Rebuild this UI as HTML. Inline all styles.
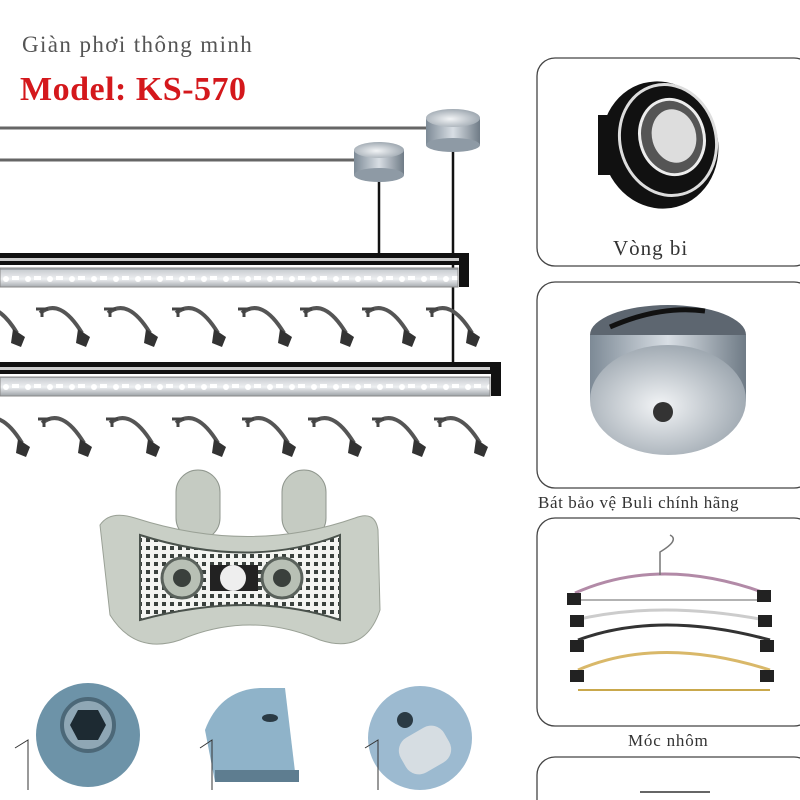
<!DOCTYPE html>
<html><head><meta charset="utf-8"><style>
html,body{margin:0;padding:0;background:#fff;}
body{width:800px;height:800px;overflow:hidden;position:relative;font-family:"Liberation Serif",serif;}
.t{position:absolute;white-space:nowrap;}
</style></head><body>
<svg width="800" height="800" style="position:absolute;left:0;top:0">
<defs>
<linearGradient id="cyl" x1="0" x2="1"><stop offset="0" stop-color="#7d8a96"/><stop offset=".5" stop-color="#d8dee4"/><stop offset="1" stop-color="#6f7b86"/></linearGradient>
<radialGradient id="cap" cx=".45" cy=".55" r=".6"><stop offset="0" stop-color="#f2f4f6"/><stop offset="1" stop-color="#9aa4ad"/></radialGradient>
<linearGradient id="strip" x1="0" y1="0" x2="0" y2="1"><stop offset="0" stop-color="#c9cdd1"/><stop offset=".5" stop-color="#eef0f2"/><stop offset="1" stop-color="#9ea3a8"/></linearGradient>
<pattern id="holes" width="22" height="18" patternUnits="userSpaceOnUse"><rect width="22" height="18" fill="url(#strip)"/><circle cx="6" cy="9" r="3" fill="#fff"/><rect x="12" y="6" width="7" height="4" fill="#fff"/></pattern>
<pattern id="dots" width="8" height="8" patternUnits="userSpaceOnUse"><rect width="8" height="8" fill="#f4f5f2"/><rect x="2" y="2" width="4" height="4" fill="#3b423e"/></pattern>
<g id="hook"><path d="M0 8 Q20 -8 42 28" fill="none" stroke="#555" stroke-width="4"/><path d="M38 24 L50 32 L46 42 L36 38 Z" fill="#333"/><path d="M-4 4 L8 4 M2 4 L2 12" stroke="#444" stroke-width="3"/></g>
</defs>
<line x1="0" y1="128" x2="430" y2="128" stroke="#666" stroke-width="3"/>
<line x1="0" y1="160" x2="358" y2="160" stroke="#666" stroke-width="3"/>
<line x1="379" y1="175" x2="379" y2="255" stroke="#111" stroke-width="2.5"/>
<line x1="453" y1="145" x2="453" y2="365" stroke="#111" stroke-width="2.5"/>
<rect x="354" y="150" width="50" height="25" fill="url(#cyl)"/><ellipse cx="379" cy="150" rx="25" ry="8" fill="url(#cap)"/><ellipse cx="379" cy="175" rx="25" ry="7" fill="#8e9aa5"/>
<rect x="426" y="118" width="54" height="27" fill="url(#cyl)"/><ellipse cx="453" cy="118" rx="27" ry="9" fill="url(#cap)"/><ellipse cx="453" cy="145" rx="27" ry="7" fill="#8e9aa5"/>
<rect x="0" y="253" width="462" height="12" fill="#111"/><rect x="0" y="258" width="460" height="3" fill="#ccc"/>
<rect x="0" y="268" width="458" height="19" fill="url(#holes)" stroke="#888"/>
<rect x="459" y="253" width="10" height="34" fill="#111"/>
<rect x="0" y="362" width="494" height="12" fill="#111"/><rect x="0" y="367" width="490" height="3" fill="#ccc"/>
<rect x="0" y="377" width="490" height="19" fill="url(#holes)" stroke="#888"/>
<rect x="491" y="362" width="10" height="34" fill="#111"/>
<g>
<use href="#hook" x="-25" y="305"/><use href="#hook" x="40" y="305"/><use href="#hook" x="108" y="305"/><use href="#hook" x="176" y="305"/><use href="#hook" x="242" y="305"/><use href="#hook" x="304" y="305"/><use href="#hook" x="366" y="305"/><use href="#hook" x="430" y="305"/>
<use href="#hook" x="-20" y="415"/><use href="#hook" x="42" y="415"/><use href="#hook" x="110" y="415"/><use href="#hook" x="176" y="415"/><use href="#hook" x="246" y="415"/><use href="#hook" x="312" y="415"/><use href="#hook" x="376" y="415"/><use href="#hook" x="438" y="415"/>
</g>
<rect x="176" y="470" width="44" height="70" rx="22" fill="#c5cbc2" stroke="#8f968d"/>
<rect x="282" y="470" width="44" height="70" rx="22" fill="#c5cbc2" stroke="#8f968d"/>
<path d="M100 525 Q110 510 135 518 Q250 555 355 518 Q375 510 378 530 L380 610 Q365 655 320 640 Q250 610 180 640 Q135 655 110 615 Z" fill="#c9cfc6" stroke="#9aa196"/>
<path d="M140 535 Q250 570 340 535 L340 620 Q250 590 140 620 Z" fill="url(#dots)" stroke="#4a524c" stroke-width="2"/>
<circle cx="182" cy="578" r="20" fill="#b8c0b5" stroke="#5a625c" stroke-width="3"/><circle cx="182" cy="578" r="9" fill="#3a403c"/>
<circle cx="282" cy="578" r="20" fill="#b8c0b5" stroke="#5a625c" stroke-width="3"/><circle cx="282" cy="578" r="9" fill="#3a403c"/>
<rect x="210" y="565" width="48" height="26" fill="#222"/><circle cx="233" cy="578" r="13" fill="#eee"/>
<circle cx="88" cy="735" r="52" fill="#6d93a8"/><circle cx="88" cy="725" r="26" fill="#8fa7b5" stroke="#4c6878" stroke-width="4"/><polygon points="78,710 98,710 106,725 98,740 78,740 70,725" fill="#1d2a32"/>
<path d="M205 730 Q220 690 260 688 L285 688 L296 780 L215 782 Z" fill="#8fb3c9"/><rect x="215" y="770" width="84" height="12" fill="#5e7d90"/><ellipse cx="270" cy="718" rx="8" ry="4" fill="#2a3a44"/>
<circle cx="420" cy="738" r="52" fill="#9cbad0"/><rect x="400" y="730" width="50" height="40" rx="15" fill="#d6dde2" transform="rotate(-30 425 750)"/><circle cx="405" cy="720" r="8" fill="#2a3a44"/>
<path d="M15 748 L28 740 L28 790 M200 748 L212 740 L212 790 M365 748 L378 740 L378 790" fill="none" stroke="#333" stroke-width="1"/>
<g fill="#fff" stroke="#444" stroke-width="1.3">
<rect x="537" y="58" width="275" height="208" rx="18"/>
<rect x="537" y="282" width="275" height="206" rx="18"/>
<rect x="537" y="518" width="275" height="208" rx="18"/>
<rect x="537" y="757" width="275" height="80" rx="18"/>
</g>
<ellipse cx="660" cy="145" rx="58" ry="64" fill="#111" transform="rotate(-15 660 145)"/>
<rect x="598" y="115" width="40" height="60" fill="#111"/>
<ellipse cx="668" cy="140" rx="48" ry="56" fill="none" stroke="#ddd" stroke-width="3" transform="rotate(-15 668 140)"/>
<ellipse cx="672" cy="137" rx="32" ry="38" fill="#555" stroke="#eee" stroke-width="3" transform="rotate(-15 672 137)"/>
<ellipse cx="674" cy="136" rx="22" ry="27" fill="#ddd" transform="rotate(-15 674 136)"/>
<ellipse cx="668" cy="335" rx="78" ry="30" fill="#5d6670"/>
<rect x="590" y="335" width="156" height="65" fill="url(#cyl)"/>
<ellipse cx="668" cy="400" rx="78" ry="55" fill="url(#cap)"/>
<path d="M610 327 Q660 305 705 311" stroke="#111" stroke-width="5" fill="none"/>
<circle cx="663" cy="412" r="10" fill="#333"/>
<g fill="none" stroke-width="3">
<path d="M575 593 Q660 555 765 593" stroke="#b28aa7"/><path d="M575 600 L765 600" stroke="#999" stroke-width="1.5"/>
<path d="M575 620 Q660 600 765 620" stroke="#ccc"/><path d="M578 640 Q660 610 770 640" stroke="#333"/>
<path d="M578 670 Q660 635 770 670" stroke="#d9b869"/><path d="M578 690 L770 690" stroke="#c9a84c" stroke-width="2"/>
<path d="M660 575 L660 552 Q680 540 670 535" stroke="#777" stroke-width="1.5"/>
</g>
<g fill="#222"><rect x="567" y="593" width="14" height="12"/><rect x="757" y="590" width="14" height="12"/><rect x="570" y="615" width="14" height="12"/><rect x="758" y="615" width="14" height="12"/><rect x="570" y="640" width="14" height="12"/><rect x="760" y="640" width="14" height="12"/><rect x="570" y="670" width="14" height="12"/><rect x="760" y="670" width="14" height="12"/></g>
<line x1="640" y1="792" x2="710" y2="792" stroke="#666" stroke-width="2"/>
</svg>
<div class="t" style="left:22px;top:32px;font-size:23px;letter-spacing:1.4px;color:#555;">Giàn phơi thông minh</div>
<div class="t" style="left:20px;top:71px;font-size:34px;letter-spacing:0.5px;font-weight:bold;color:#d4181c;">Model: KS-570</div>
<div class="t" style="left:613px;top:236px;font-size:21px;letter-spacing:1px;color:#333;">Vòng bi</div>
<div class="t" style="left:538px;top:493px;font-size:17px;letter-spacing:0.6px;color:#333;">Bát bảo vệ Buli chính hãng</div>
<div class="t" style="left:628px;top:731px;font-size:17px;letter-spacing:0.8px;color:#333;">Móc nhôm</div>
</body></html>
